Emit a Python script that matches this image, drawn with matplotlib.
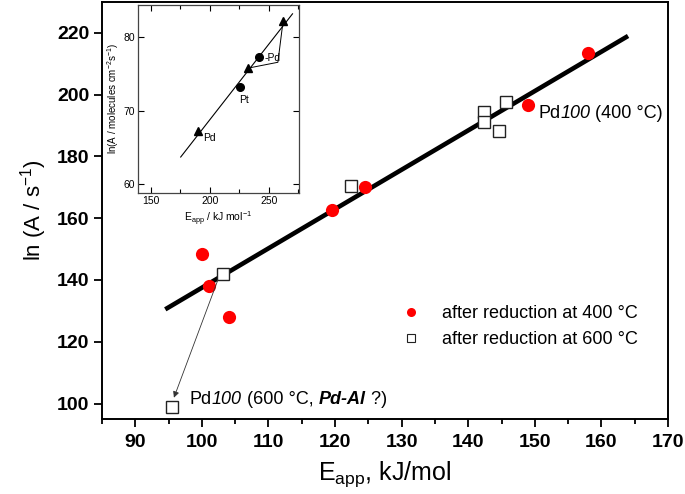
import matplotlib
matplotlib.use("Agg")
import matplotlib.pyplot as plt
from matplotlib.lines import Line2D
from matplotlib.ticker import MultipleLocator

plt.rcParams["font.family"] = ["Liberation Sans", "DejaVu Sans"]
plt.rcParams["mathtext.fontset"] = "custom"
plt.rcParams["mathtext.rm"] = "Liberation Sans"
plt.rcParams["mathtext.it"] = "Liberation Sans:italic"
plt.rcParams["mathtext.bf"] = "Liberation Sans:bold"

# main data
red_x = [100.0, 101.0, 104.0, 119.5, 124.5, 149.0, 158.0]
red_y = [148.5, 138.0, 128.0, 162.7, 170.2, 196.7, 213.5]
sq_x = [103.2, 122.4, 142.4, 142.4, 144.6, 145.7, 95.5]
sq_y = [141.9, 170.3, 194.5, 191.0, 188.1, 197.7, 98.8]
fit_x = [94.5, 164.0]
fit_y = [130.5, 219.0]

# inset data (scanned literature figure)
tri_x = [189.5, 232.2, 262.0]
tri_y = [67.2, 75.8, 82.2]
dot_x = [225.9, 241.5]
dot_y = [73.2, 77.3]
inset_fit_x = [175.2, 270.0]
inset_fit_y = [63.7, 83.2]
pd_link_x = [232.2, 257.6, 262.0]
pd_link_y = [75.8, 76.6, 82.2]


def rich_text(ax, x, y, parts, size=13):
    """Chain text pieces with different styles starting at data point (x, y)."""
    prev = None
    for s, style, weight in parts:
        if prev is None:
            prev = ax.text(x, y, s, fontsize=size, style=style, weight=weight,
                           ha="left", va="center")
        else:
            prev = ax.annotate(s, xy=(1, 0), xycoords=prev, fontsize=size,
                               style=style, weight=weight, ha="left", va="bottom")
    return prev


fig = plt.figure(figsize=(6.85, 4.94), dpi=100)
ax = fig.add_axes([102 / 685, 1 - 419 / 494, 566 / 685, 417 / 494])

ax.plot(fit_x, fit_y, color="black", lw=3.3, solid_capstyle="butt", zorder=2)
ax.plot(red_x, red_y, "o", color="#ff0000", ms=9.5, mec="none", zorder=3)
ax.plot(sq_x, sq_y, "s", mfc="white", mec="#222222", mew=1.0, ms=8.5, zorder=3)

ax.annotate("", xy=(95.8, 101.9), xytext=(102.4, 140.0),
            arrowprops=dict(arrowstyle="-|>", color="#333333", lw=0.6,
                            mutation_scale=9, shrinkA=0, shrinkB=0))

rich_text(ax, 150.5, 194.0, [("Pd", "normal", "normal"), ("100", "italic", "normal"),
                             (" (400 °C)", "normal", "normal")])
rich_text(ax, 98.2, 101.2, [("Pd", "normal", "normal"), ("100", "italic", "normal"),
                            (" (600 °C, ", "normal", "normal"),
                            ("Pd-Al", "italic", "bold"), (" ?)", "normal", "normal")])

handles = [
    Line2D([], [], ls="none", marker="o", color="#ff0000", mec="none", ms=6.5),
    Line2D([], [], ls="none", marker="s", mfc="white", mec="#222222", mew=0.8, ms=5.5),
]
ax.legend(handles, ["after reduction at 400 °C", "after reduction at 600 °C"],
          loc="center left", bbox_to_anchor=(0.518, 0.221), frameon=False,
          fontsize=13, handlelength=1.0, handletextpad=1.2, labelspacing=0.5,
          borderaxespad=0)

ax.set_xlim(85, 170)
ax.set_ylim(95, 230)
ax.xaxis.set_major_locator(MultipleLocator(10))
ax.xaxis.set_minor_locator(MultipleLocator(5))
ax.yaxis.set_major_locator(MultipleLocator(20))
ax.tick_params(axis="both", which="major", direction="out", length=6, width=1.3)
ax.tick_params(axis="x", which="minor", direction="out", length=3.5, width=1.3)
ax.tick_params(axis="x", pad=5)
ax.tick_params(axis="y", pad=3)
for lab in ax.get_xticklabels() + ax.get_yticklabels():
    lab.set_fontweight("bold")
    lab.set_fontsize(14)
for sp in ax.spines.values():
    sp.set_linewidth(1.4)

ax.set_xlabel(r"E$_{\rm app}$, kJ/mol", fontsize=18, labelpad=6)
ax.set_ylabel(r"ln (A / s$^{-1}$)", fontsize=16, labelpad=6)

# inset
axin = fig.add_axes([138 / 685, 1 - 193 / 494, 161 / 685, 188 / 494])
axin.plot(inset_fit_x, inset_fit_y, color="black", lw=0.8)
axin.plot(pd_link_x, pd_link_y, color="black", lw=0.7)
axin.plot(tri_x, tri_y, "^", color="black", ms=5.5)
axin.plot(dot_x, dot_y, "o", color="black", ms=5.5)
axin.text(194.0, 66.3, "Pd", fontsize=7.5, va="center")
axin.text(225.0, 71.5, "Pt", fontsize=7.5, va="center")
axin.text(246.5, 77.2, "-Pd", fontsize=7.5, va="center")
axin.set_xlim(139, 275.5)
axin.set_ylim(58.8, 84.4)
axin.xaxis.set_major_locator(MultipleLocator(50))
axin.xaxis.set_minor_locator(MultipleLocator(25))
axin.yaxis.set_major_locator(MultipleLocator(10))
axin.tick_params(which="both", direction="in", top=True, right=True,
                 labelsize=7.5, width=0.8, pad=2)
axin.tick_params(which="major", length=4)
axin.tick_params(which="minor", length=3)
for sp in axin.spines.values():
    sp.set_linewidth(0.9)
    sp.set_color("#444444")
axin.set_xlabel(r"E$_{\rm app}$ / kJ mol$^{-1}$", fontsize=7.5, labelpad=3)
axin.set_ylabel(r"ln(A / molecules cm$^{-2}$s$^{-1}$)", fontsize=7, labelpad=2)

fig.savefig("out.png", dpi=100)
